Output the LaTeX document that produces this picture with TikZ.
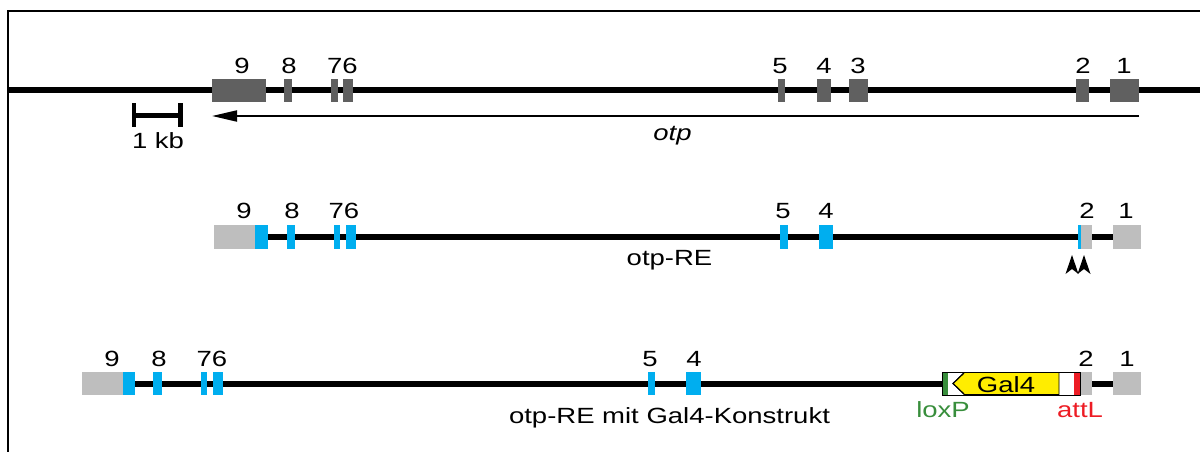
\documentclass[tikz,border=0pt]{standalone}
\usepackage{fontspec}
\setmainfont{Liberation Sans}
\usetikzlibrary{arrows.meta}
\definecolor{exdark}{RGB}{96,96,96}
\definecolor{exlight}{RGB}{190,190,190}
\definecolor{excyan}{RGB}{0,174,239}
\definecolor{galyellow}{RGB}{255,237,0}
\definecolor{loxgreen}{RGB}{56,142,60}
\definecolor{attred}{RGB}{237,28,36}
\newcommand{\sx}[1]{\scalebox{1.25}[1]{#1}}
\begin{document}
\begin{tikzpicture}[x=1pt,y=-1pt,
  lbl/.style={font=\fontsize{22}{26}\selectfont, inner sep=0pt, anchor=base},
  backbone/.style={line width=6pt},
  frameline/.style={line width=1.6pt},
  darkex/.style={fill=exdark},
  lightex/.style={fill=exlight},
  cyanex/.style={fill=excyan},
  headmark/.style={fill=black}]
\useasboundingbox (0,0) rectangle (1200,452);
% frame
\draw[frameline] (8,452) -- (8,11) -- (1200,11);

% ---------- top row: genomic locus ----------
\draw[backbone] (8,90.5) -- (1200,90.5);
\fill[darkex] (212,79) rectangle (266,102);
\fill[darkex] (284,79) rectangle (292,102);
\fill[darkex] (331,79) rectangle (338,102);
\fill[darkex] (343,79) rectangle (353,102);
\fill[darkex] (778,79) rectangle (785,102);
\fill[darkex] (817,79) rectangle (831,102);
\fill[darkex] (849,79) rectangle (868,102);
\fill[darkex] (1076,79) rectangle (1089,102);
\fill[darkex] (1110,79) rectangle (1139,102);
\node[lbl] (t9) at (242,73.3) {\sx{9}};
\node[lbl] (t8) at (289,73.3) {\sx{8}};
\node[lbl] (t76) at (342.5,73.3) {\sx{76}};
\node[lbl] (t5) at (780,73.3) {\sx{5}};
\node[lbl] (t4) at (824,73.3) {\sx{4}};
\node[lbl] (t3) at (858,73.3) {\sx{3}};
\node[lbl] (t2) at (1083,73.3) {\sx{2}};
\node[lbl] (t1) at (1124,73.3) {\sx{1}};
% transcript arrow
\coordinate (arS) at (1139,116);
\coordinate (arE) at (212,116);
\draw[line width=2pt, -{Triangle[length=25pt,width=11pt]}] (arS) -- (arE);
\node[lbl] (otp) at (672.5,140) {\sx{\itshape otp}};
% scale bar
\draw[line width=4.5pt] (134,115.5) -- (180.5,115.5);
\draw[line width=4.5pt] (134,103.3) -- (134,126.7);
\draw[line width=4.5pt] (180.5,103.3) -- (180.5,126.7);
\node[lbl] (kb) at (158,148.3) {\sx{1 kb}};

% ---------- middle row: otp-RE ----------
\draw[backbone] (250,237) -- (1115,237);
\fill[lightex] (214,225) rectangle (255,249);
\fill[cyanex] (255,225) rectangle (268,249);
\fill[cyanex] (287,225) rectangle (295,249);
\fill[cyanex] (334,225) rectangle (340,249);
\fill[cyanex] (346,225) rectangle (356,249);
\fill[cyanex] (780,225) rectangle (788,249);
\fill[cyanex] (819,225) rectangle (833,249);
\fill[cyanex] (1078,225) rectangle (1081,249);
\fill[lightex] (1081,225) rectangle (1092,249);
\fill[lightex] (1113,225) rectangle (1141,249);
\node[lbl] (m9) at (244,218) {\sx{9}};
\node[lbl] (m8) at (292,218) {\sx{8}};
\node[lbl] (m76) at (344,218) {\sx{76}};
\node[lbl] (m5) at (783,218) {\sx{5}};
\node[lbl] (m4) at (826,218) {\sx{4}};
\node[lbl] (m2) at (1087,218) {\sx{2}};
\node[lbl] (m1) at (1126,218) {\sx{1}};
\node[lbl] (otpre) at (669.5,265) {\sx{otp-RE}};
% arrowhead markers
\fill[headmark] (1072,255) -- (1078.5,274) -- (1072,269) -- (1065.5,274) -- cycle;
\fill[headmark] (1084,255) -- (1090.5,274) -- (1084,269) -- (1077.5,274) -- cycle;

% ---------- bottom row: otp-RE with Gal4 construct ----------
\draw[backbone] (118,383.5) -- (944,383.5);
\draw[backbone] (1090,383.5) -- (1115,383.5);
\fill[lightex] (82,372) rectangle (123,395);
\fill[cyanex] (123,372) rectangle (135,395);
\fill[cyanex] (153,372) rectangle (162,395);
\fill[cyanex] (201,372) rectangle (207,395);
\fill[cyanex] (213,372) rectangle (223,395);
\fill[cyanex] (648,372) rectangle (655,395);
\fill[cyanex] (686,372) rectangle (701,395);
\fill[lightex] (1080,372) rectangle (1092,395);
\fill[lightex] (1113,372) rectangle (1141,395);
% construct
\fill[white] (942,372) rectangle (1080,395);
\fill[galyellow, draw=black, line width=0.6pt] (964,372.5) -- (953,383.5) -- (964,394.5) -- (1059,394.5) -- (1059,372.5) -- cycle;
\fill[white] (942,372) rectangle (952,395);
\draw[line width=1.2pt] (964,373) -- (953,383.5) -- (964,394);
\fill[loxgreen] (942,372) rectangle (948,395);
\fill[attred] (1074,372) rectangle (1080,395);
\draw[line width=1pt] (942,372) rectangle (1080,395);
\node[lbl] (gal4) at (1006,392) {\sx{Gal4}};
\node[lbl, text=loxgreen] (loxp) at (943,417.3) {\sx{loxP}};
\node[lbl, text=attred] (attl) at (1080,417.3) {\sx{attL}};
\node[lbl] (b9) at (112,366.5) {\sx{9}};
\node[lbl] (b8) at (159,366.5) {\sx{8}};
\node[lbl] (b76) at (212,366.5) {\sx{76}};
\node[lbl] (b5) at (650,366.5) {\sx{5}};
\node[lbl] (b4) at (694,366.5) {\sx{4}};
\node[lbl] (b2) at (1086,366.5) {\sx{2}};
\node[lbl] (b1) at (1127,366.5) {\sx{1}};
\node[lbl] (otpgal) at (669.5,423) {\sx{otp-RE mit Gal4-Konstrukt}};
\end{tikzpicture}
\end{document}
